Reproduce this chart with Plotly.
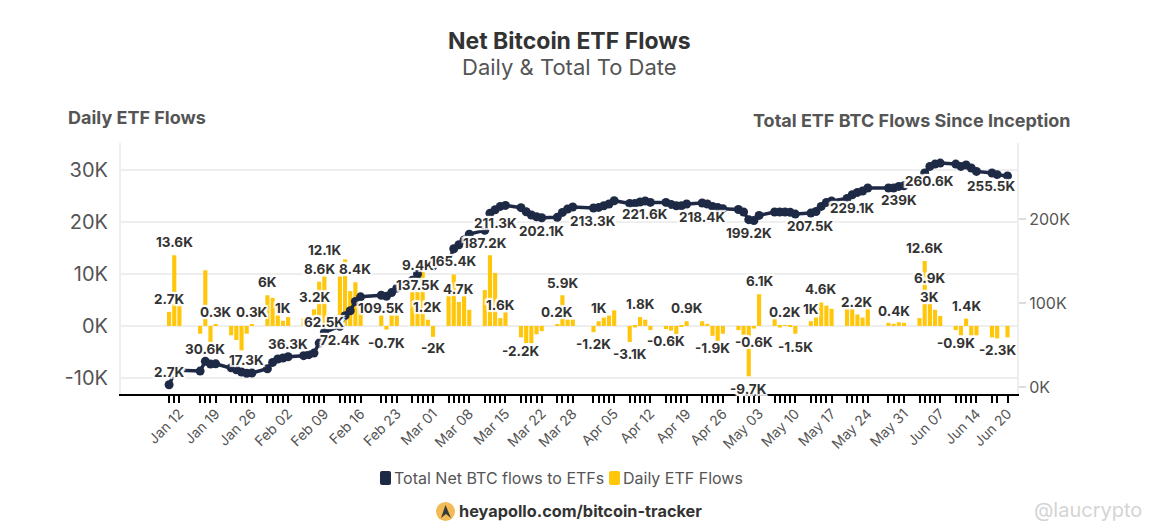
import plotly.graph_objects as go

# Trading days, values in thousands of BTC
dates = [
    '2024-01-10', '2024-01-11', '2024-01-12',
    '2024-01-16', '2024-01-17', '2024-01-18', '2024-01-19',
    '2024-01-22', '2024-01-23', '2024-01-24', '2024-01-25', '2024-01-26',
    '2024-01-29', '2024-01-30', '2024-01-31', '2024-02-01', '2024-02-02',
    '2024-02-05', '2024-02-06', '2024-02-07', '2024-02-08', '2024-02-09',
    '2024-02-12', '2024-02-13', '2024-02-14', '2024-02-15', '2024-02-16',
    '2024-02-20', '2024-02-21', '2024-02-22', '2024-02-23',
    '2024-02-26', '2024-02-27', '2024-02-28', '2024-02-29', '2024-03-01',
    '2024-03-04', '2024-03-05', '2024-03-06', '2024-03-07', '2024-03-08',
    '2024-03-11', '2024-03-12', '2024-03-13', '2024-03-14', '2024-03-15',
    '2024-03-18', '2024-03-19', '2024-03-20', '2024-03-21', '2024-03-22',
    '2024-03-25', '2024-03-26', '2024-03-27', '2024-03-28',
    '2024-04-01', '2024-04-02', '2024-04-03', '2024-04-04', '2024-04-05',
    '2024-04-08', '2024-04-09', '2024-04-10', '2024-04-11', '2024-04-12',
    '2024-04-15', '2024-04-16', '2024-04-17', '2024-04-18', '2024-04-19',
    '2024-04-22', '2024-04-23', '2024-04-24', '2024-04-25', '2024-04-26',
    '2024-04-29', '2024-04-30', '2024-05-01', '2024-05-02', '2024-05-03',
    '2024-05-06', '2024-05-07', '2024-05-08', '2024-05-09', '2024-05-10',
    '2024-05-13', '2024-05-14', '2024-05-15', '2024-05-16', '2024-05-17',
    '2024-05-20', '2024-05-21', '2024-05-22', '2024-05-23', '2024-05-24',
    '2024-05-28', '2024-05-29', '2024-05-30', '2024-05-31',
    '2024-06-03', '2024-06-04', '2024-06-05', '2024-06-06', '2024-06-07',
    '2024-06-10', '2024-06-11', '2024-06-12', '2024-06-13', '2024-06-14',
    '2024-06-17', '2024-06-18', '2024-06-20',
]
daily_flows = [
    2.7, 13.6, 3.8,
    -1.5, 10.7, -3.1, 0.3,
    -1.8, -2.7, -4.7, -1.5, 0.3,
    5.9, 5.4, 2.0, 1.0, 1.7,
    1.5, 0.6, 3.2, 8.5, 9.5,
    9.5, 12.8, 6.7, 8.4, 5.5,
    2.0, -0.7, 2.0, 2.0,
    6.5, 6.5, 10.4, 1.2, -2.1,
    5.7, 9.9, 4.6, 5.7, 3.1,
    6.9, 13.6, 10.2, 1.5, 2.6,
    -2.2, -3.3, -3.3, -1.6, -1.0,
    0.2, 5.9, 1.2, 1.2,
    -1.2, 0.9, 1.6, 2.0, 3.0,
    -3.1, -0.3, 1.7, 1.2, -0.8,
    -0.6, -0.9, -1.6, -0.1, 0.9,
    0.9, 0.4, -1.9, -2.9, -1.5,
    -0.8, -1.7, -9.7, -0.5, 6.1,
    1.3, -0.3, 0.1, -0.1, -1.5,
    0.9, 1.6, 4.5, 3.9, 3.3,
    3.2, 3.2, 2.2, 1.6, 3.2,
    0.6, 0.4, 0.7, 0.6,
    1.5, 12.5, 4.2, 3.1, 1.9,
    -0.8, -1.8, 1.4, -1.8, -1.8,
    -2.2, -2.4, -2.2,
]
total_flows = [
    2.7, 16.3, 20.0,
    19.0, 30.6, 27.4, 27.6,
    23.0, 20.6, 17.9, 16.4, 16.7,
    21.8, 29.3, 33.3, 34.5, 36.1,
    37.3, 38.5, 40.4, 52.3, 65.0,
    72.4, 85.0, 90.8, 101.9, 107.4,
    109.3, 108.1, 112.4, 117.7,
    127.0, 134.5, 144.0, 146.0, 144.0,
    150.0, 164.6, 169.4, 175.0, 182.0,
    186.5, 207.0, 211.0, 215.0, 216.2,
    213.5, 208.7, 204.8, 202.7, 201.5,
    202.0, 207.9, 211.9, 214.3,
    213.1, 213.8, 215.8, 217.9, 221.8,
    218.6, 218.6, 220.2, 221.4, 219.8,
    219.8, 217.4, 215.8, 215.8, 217.9,
    219.1, 217.9, 215.0, 213.8, 212.3,
    211.4, 208.3, 199.2, 198.3, 204.3,
    208.3, 208.3, 208.3, 208.0, 205.9,
    207.1, 209.0, 215.0, 219.8, 221.4,
    224.5, 228.9, 231.7, 233.3, 236.9,
    236.9, 236.9, 238.8, 239.6,
    248.0, 254.8, 262.6, 265.4, 266.6,
    265.4, 262.6, 264.3, 260.7, 256.7,
    254.8, 252.8, 251.3,
]

tick_dates = [
    '2024-01-12', '2024-01-19', '2024-01-26', '2024-02-02', '2024-02-09',
    '2024-02-16', '2024-02-23', '2024-03-01', '2024-03-08', '2024-03-15',
    '2024-03-22', '2024-03-28', '2024-04-05', '2024-04-12', '2024-04-19',
    '2024-04-26', '2024-05-03', '2024-05-10', '2024-05-17', '2024-05-24',
    '2024-05-31', '2024-06-07', '2024-06-14', '2024-06-20',
]
tick_labels = [
    'Jan 12', 'Jan 19', 'Jan 26', 'Feb 02', 'Feb 09', 'Feb 16', 'Feb 23', 'Mar 01',
    'Mar 08', 'Mar 15', 'Mar 22', 'Mar 28', 'Apr 05', 'Apr 12', 'Apr 19', 'Apr 26',
    'May 03', 'May 10', 'May 17', 'May 24', 'May 31', 'Jun 07', 'Jun 14', 'Jun 20',
]

# date, height on the left axis, text
daily_labels = [
    ('2024-01-11', 16.2, '13.6K'), ('2024-01-10', 5.2, '2.7K'), ('2024-01-19', 2.7, '0.3K'),
    ('2024-01-26', 2.7, '0.3K'), ('2024-01-29', 8.5, '6K'), ('2024-02-01', 3.5, '1K'),
    ('2024-02-07', 5.5, '3.2K'), ('2024-02-08', 10.9, '8.6K'), ('2024-02-09', 14.6, '12.1K'),
    ('2024-02-15', 10.9, '8.4K'), ('2024-02-21', -3.3, '-0.7K'), ('2024-02-27', 11.7, '9.4K'),
    ('2024-02-29', 3.6, '1.2K'), ('2024-03-01', -4.2, '-2K'), ('2024-03-06', 7.1, '4.7K'),
    ('2024-03-14', 4.0, '1.6K'), ('2024-03-18', -4.8, '-2.2K'), ('2024-03-25', 2.7, '0.2K'),
    ('2024-03-26', 8.3, '5.9K'), ('2024-04-01', -3.5, '-1.2K'), ('2024-04-02', 3.5, '1K'),
    ('2024-04-08', -5.4, '-3.1K'), ('2024-04-10', 4.2, '1.8K'), ('2024-04-15', -2.9, '-0.6K'),
    ('2024-04-19', 3.5, '0.9K'), ('2024-04-24', -4.2, '-1.9K'), ('2024-05-02', -3.1, '-0.6K'),
    ('2024-05-03', 8.6, '6.1K'), ('2024-05-01', -12.2, '-9.7K'), ('2024-05-08', 2.7, '0.2K'),
    ('2024-05-10', -4.0, '-1.5K'), ('2024-05-13', 3.3, '1K'), ('2024-05-15', 7.1, '4.6K'),
    ('2024-05-22', 4.6, '2.2K'), ('2024-05-29', 2.9, '0.4K'), ('2024-06-04', 15.0, '12.6K'),
    ('2024-06-05', 9.2, '6.9K'), ('2024-06-05', 5.5, '3K'), ('2024-06-12', 3.9, '1.4K'),
    ('2024-06-10', -3.3, '-0.9K'), ('2024-06-18', -4.6, '-2.3K'),
]
# date, height on the right axis, text
total_labels = [
    ('2024-01-10', 18.2, '2.7K'), ('2024-01-17', 45.6, '30.6K'), ('2024-01-25', 32.5, '17.3K'),
    ('2024-02-02', 51.5, '36.3K'), ('2024-02-09', 77.7, '62.5K'), ('2024-02-12', 56.3, '72.4K'),
    ('2024-02-20', 94.4, '109.5K'), ('2024-02-27', 121.8, '137.5K'), ('2024-03-05', 150.4, '165.4K'),
    ('2024-03-11', 171.8, '187.2K'), ('2024-03-13', 195.6, '211.3K'), ('2024-03-22', 186.0, '202.1K'),
    ('2024-04-01', 198.0, '213.3K'), ('2024-04-11', 206.3, '221.6K'), ('2024-04-22', 202.7, '218.4K'),
    ('2024-05-01', 183.7, '199.2K'), ('2024-05-13', 192.0, '207.5K'), ('2024-05-21', 213.4, '229.1K'),
    ('2024-05-30', 223.0, '239K'), ('2024-06-05', 245.6, '260.6K'), ('2024-06-17', 239.8, '255.5K'),
]

FONT = 'Inter'
NAVY = '#1e2a45'
YELLOW = '#ffc60a'
TEXT = '#333333'
GREY = '#555555'
HALO = ('2px 2px 1px white, -2px -2px 1px white, 2px -2px 1px white, -2px 2px 1px white, '
        '2px 0 1px white, -2px 0 1px white, 0 2px 1px white, 0 -2px 1px white')

# plot area in the reference picture; the page body adds 8px on the left and top
LEFT, RIGHT, TOP, BOTTOM = 121, 1017, 143, 394
BODY = 8
WIDTH, HEIGHT = 1134, 516


def px(x):
    return (x - LEFT) / (RIGHT - LEFT)


def py(y):
    return (BOTTOM - y) / (BOTTOM - TOP)


fig = go.Figure()
fig.add_trace(go.Bar(x=dates, y=daily_flows, marker_color=YELLOW, marker_line_width=0,
                     showlegend=False, yaxis='y'))
fig.add_trace(go.Scatter(x=dates, y=total_flows, mode='lines+markers', yaxis='y2', showlegend=False,
                         line=dict(color=NAVY, width=3.5), marker=dict(color=NAVY, size=9)))

annotations = []
for d, y, t in daily_labels:
    annotations.append(dict(x=d, y=y, xref='x', yref='y', text='<b>%s</b>' % t, showarrow=False,
                            font=dict(family=FONT, size=13.5, color=TEXT, shadow=HALO)))
for d, y, t in total_labels:
    annotations.append(dict(x=d, y=y, xref='x', yref='y2', text='<b>%s</b>' % t, showarrow=False,
                            font=dict(family=FONT, size=13.5, color=TEXT, shadow=HALO)))


def page_text(x, y, text, size, color, anchor='center'):
    # annotations keep a little padding inside their box, so pull side-anchored text out by 2px
    shift = {'left': -2, 'right': 2, 'center': 0}[anchor]
    annotations.append(dict(x=px(x), y=py(y), xref='paper', yref='paper', text=text, showarrow=False,
                            xanchor=anchor, yanchor='middle', xshift=shift,
                            font=dict(family=FONT, size=size, color=color)))


def swatch(x0, x1, y0, y1, color):
    # small rounded square for the legend row
    r = 2
    path = 'M %f %f L %f %f Q %f %f %f %f L %f %f Q %f %f %f %f L %f %f Q %f %f %f %f L %f %f Q %f %f %f %f Z' % (
        px(x0 + r), py(y0), px(x1 - r), py(y0), px(x1), py(y0), px(x1), py(y0 + r),
        px(x1), py(y1 - r), px(x1), py(y1), px(x1 - r), py(y1),
        px(x0 + r), py(y1), px(x0), py(y1), px(x0), py(y1 - r),
        px(x0), py(y0 + r), px(x0), py(y0), px(x0 + r), py(y0))
    return dict(type='path', xref='paper', yref='paper', path=path, fillcolor=color, line_width=0)


page_text(569, 41, '<b>Net Bitcoin ETF Flows</b>', 23, '#333333')
page_text(569, 67, 'Daily &amp; Total To Date', 22, GREY)
page_text(68, 117, '<b>Daily ETF Flows</b>', 18, GREY, 'left')
page_text(1071, 120, '<b>Total ETF BTC Flows Since Inception</b>', 18, GREY, 'right')
page_text(394, 478, 'Total Net BTC flows to ETFs', 16, GREY, 'left')
page_text(623, 478, 'Daily ETF Flows', 16, GREY, 'left')
page_text(459, 511, '<b>heyapollo.com/bitcoin-tracker</b>', 16.3, '#333333', 'left')
page_text(1142, 510, '@laucrypto', 20, '#d4d4d4', 'right')

shapes = [
    swatch(380, 391, 471, 485, NAVY),
    swatch(609, 620, 471, 485, YELLOW),
    # apollo logo
    dict(type='circle', xref='paper', yref='paper', x0=px(436), x1=px(455), y0=py(502), y1=py(521),
         fillcolor='#f2bb55', line_width=0),
    dict(type='path', xref='paper', yref='paper', fillcolor='#3a3a3a', line_width=0,
         path='M %f %f L %f %f L %f %f L %f %f Z' % (
             px(445.5), py(505), px(451), py(518), px(446), py(514), px(441), py(518))),
]

fig.update_layout(
    width=WIDTH, height=HEIGHT,
    margin=dict(l=LEFT - BODY, r=WIDTH - (RIGHT - BODY), t=TOP - BODY, b=HEIGHT - (BOTTOM - BODY), pad=0),
    paper_bgcolor='white', plot_bgcolor='white',
    font=dict(family=FONT, color=GREY),
    bargap=0.2,
    showlegend=False,
    annotations=annotations,
    shapes=shapes,
    xaxis=dict(
        type='date', range=['2023-12-31 17:00', '2024-06-21 20:00'],
        tickmode='array', tickvals=tick_dates, ticktext=tick_labels, tickangle=-45,
        tickfont=dict(family=FONT, size=14, color=GREY),
        ticks='outside', ticklen=7, tickwidth=1.5, tickcolor='black',
        minor=dict(tickmode='array', tickvals=dates, ticks='outside', ticklen=7, tickwidth=1.5,
                   tickcolor='black', showgrid=False),
        showgrid=False, showline=True, linecolor='black', linewidth=2, zeroline=False,
        ticklabelstandoff=-3,
    ),
    yaxis=dict(
        range=[-13.1, 35.2], tickmode='array', tickvals=[-10, 0, 10, 20, 30],
        ticktext=['-10K', '0K', '10K', '20K', '30K'],
        tickfont=dict(family=FONT, size=20, color=GREY),
        showgrid=True, gridcolor='#eeeeee', gridwidth=2, zeroline=False,
        showline=True, linecolor='#eeeeee', linewidth=2,
        ticks='', ticklabelstandoff=7,
    ),
    yaxis2=dict(
        overlaying='y', side='right', range=[-8.3, 290.5], tickmode='array',
        tickvals=[0, 100, 200], ticktext=['0K', '100K', '200K'],
        tickfont=dict(family=FONT, size=16, color=GREY),
        showgrid=False, zeroline=False, showline=True, linecolor='#eeeeee', linewidth=2,
        ticks='outside', ticklen=7, tickcolor='#dddddd', tickwidth=2,
    ),
)

fig.write_html("out.html")
